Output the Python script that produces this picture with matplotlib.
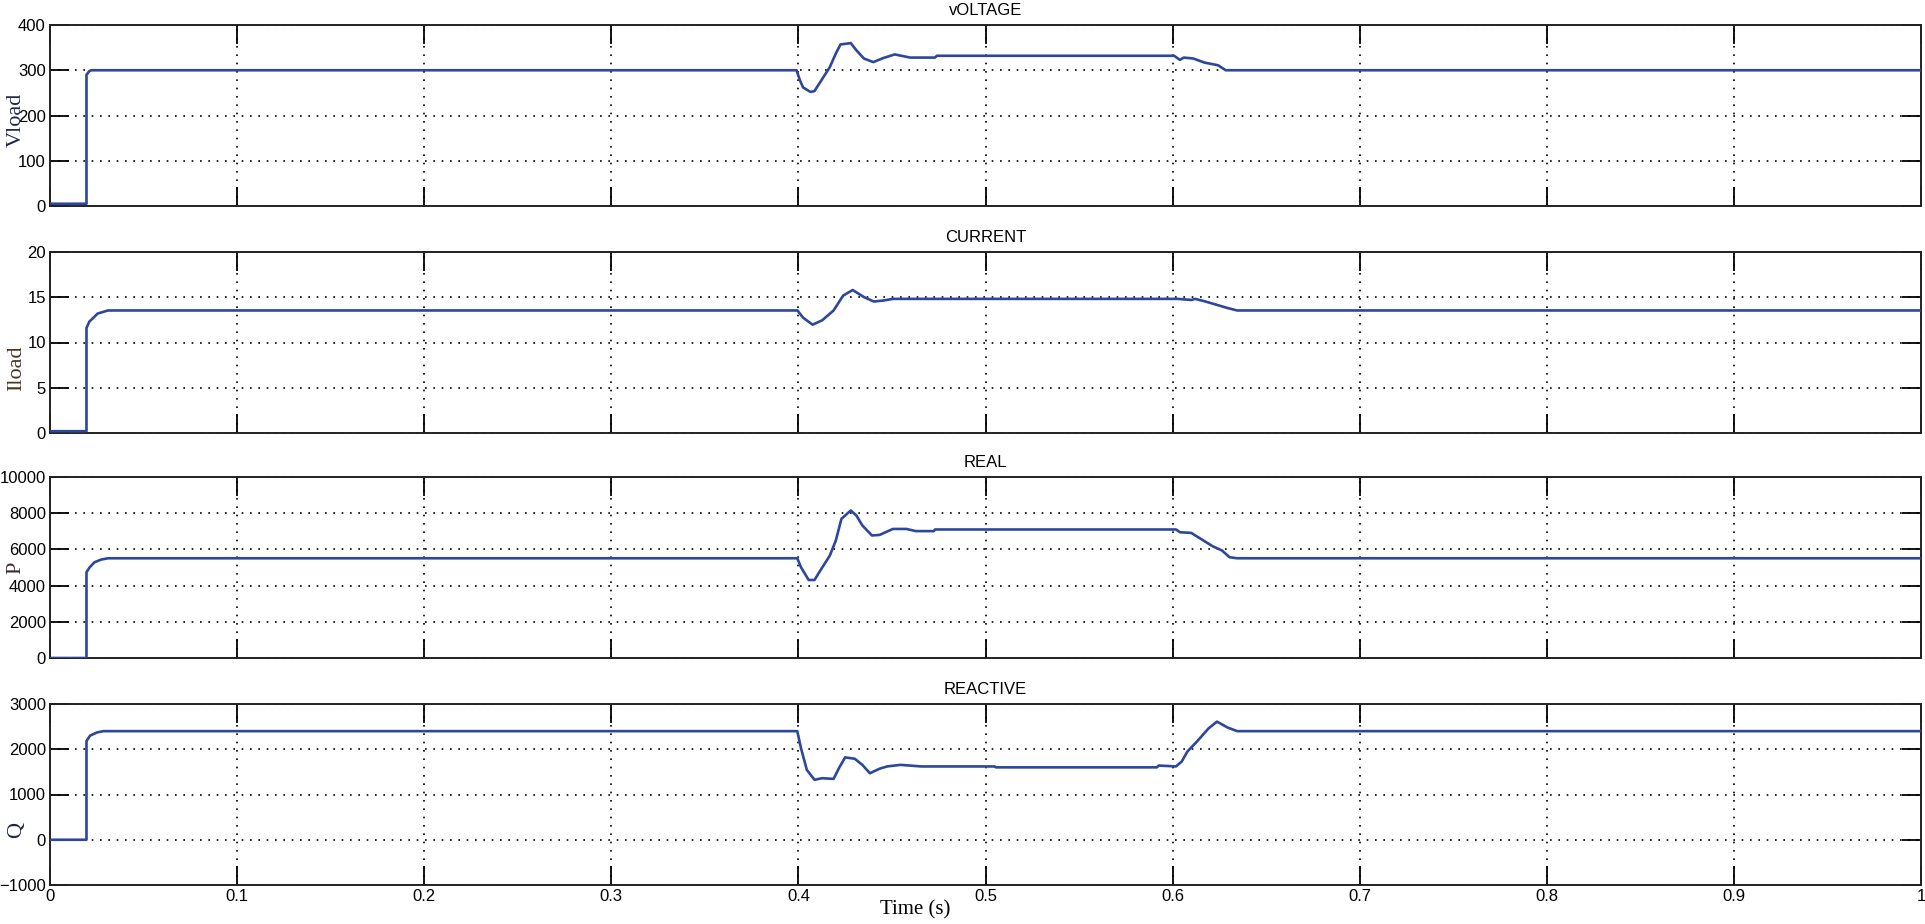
import matplotlib.pyplot as plt
import matplotlib.ticker as mticker

# breakpoints (time in s)
t_v = [0, 0.0195, 0.0195, 0.021, 0.022, 0.399, 0.4008, 0.4025, 0.4065, 0.4086,
       0.4117, 0.4168, 0.420, 0.4225, 0.428, 0.431, 0.435, 0.440, 0.4454, 0.4515,
       0.4597, 0.473, 0.474, 0.6008, 0.6039, 0.606, 0.611, 0.617, 0.6243, 0.6284, 1.0]
v_load = [5, 5, 290, 298, 300, 300, 278, 262, 252, 254,
          274, 307, 337, 357, 360, 344, 326, 318, 327, 335,
          328, 328, 332, 332, 323, 328, 326, 317, 311, 300, 300]

t_i = [0, 0.0195, 0.0195, 0.021, 0.0255, 0.031, 0.3995, 0.4025, 0.4076, 0.4127,
       0.4188, 0.4239, 0.429, 0.4352, 0.4403, 0.4454, 0.4505, 0.6028, 0.610, 0.612,
       0.617, 0.623, 0.629, 0.6345, 1.0]
i_load = [0.2, 0.2, 11.6, 12.3, 13.2, 13.54, 13.54, 12.74, 11.97, 12.45,
          13.54, 15.18, 15.8, 15.0, 14.53, 14.64, 14.82, 14.82, 14.7, 14.82,
          14.56, 14.2, 13.83, 13.54, 13.54]

t_p = [0, 0.0195, 0.0195, 0.0212, 0.0238, 0.0274, 0.031, 0.3994, 0.4014, 0.4055,
       0.4086, 0.4117, 0.4168, 0.420, 0.423, 0.428, 0.431, 0.4342, 0.4393, 0.4434,
       0.4505, 0.4577, 0.4628, 0.4724, 0.473, 0.6018, 0.6039, 0.610, 0.6151, 0.6213,
       0.6264, 0.6304, 0.6345, 1.0]
p_real = [0, 0, 4740, 5010, 5290, 5440, 5510, 5510, 5010, 4310,
          4310, 4830, 5660, 6490, 7690, 8150, 7870, 7320, 6770, 6800,
          7130, 7130, 7010, 7010, 7100, 7100, 6950, 6910, 6580, 6180,
          5940, 5570, 5510, 5510]

t_q = [0, 0.0195, 0.0195, 0.0214, 0.025, 0.0285, 0.3994, 0.4014, 0.4045, 0.4086,
       0.4127, 0.4188, 0.4219, 0.425, 0.4301, 0.4342, 0.4382, 0.4434, 0.4474, 0.4546,
       0.4658, 0.5047, 0.5057, 0.5916, 0.5926, 0.6018, 0.6049, 0.6079, 0.613, 0.6192,
       0.6237, 0.6294, 0.6345, 1.0]
q_reac = [0, 0, 2180, 2300, 2370, 2400, 2400, 2020, 1545, 1325,
          1360, 1345, 1600, 1820, 1790, 1655, 1470, 1570, 1620, 1655,
          1620, 1620, 1600, 1600, 1640, 1620, 1730, 1950, 2170, 2460,
          2610, 2480, 2400, 2400]

titles = ['vOLTAGE', 'CURRENT', 'REAL', 'REACTIVE']
ylabels = ['Vload', 'Iload', 'P', 'Q']
ylims = [(0, 400), (0, 20), (0, 10000), (-1000, 3000)]
ysteps = [100, 5, 2000, 1000]
label_y = [0.475, 0.36, 0.5, 0.305]
label_col = ['#22264a', '#4a3524', '#3a2e30', '#22264a']
xticks = [0, 0.1, 0.2, 0.3, 0.4, 0.5, 0.6, 0.7, 0.8, 0.9, 1.0]
xticklabels = ['0', '0.1', '0.2', '0.3', '0.4', '0.5', '0.6', '0.7', '0.8', '0.9', '1']

series = [(t_v, v_load), (t_i, i_load), (t_p, p_real), (t_q, q_reac)]

sans = ['Liberation Sans Narrow', 'Liberation Sans', 'DejaVu Sans']
serif = ['Liberation Serif', 'DejaVu Serif']

W, H = 1925, 924
fig = plt.figure(figsize=(W / 100, H / 100), dpi=100)
tops = [25, 252, 477, 704]
left, right = 50, 1921
ah = 181

for k in range(4):
    ax = fig.add_axes([left / W, 1 - (tops[k] + ah) / H, (right - left) / W, ah / H])
    t, y = series[k]
    ax.plot(t, y, color='#2c479c', lw=1.9, zorder=3)
    ax.set_xlim(0, 1)
    ax.set_ylim(*ylims[k])
    ax.yaxis.set_major_locator(mticker.MultipleLocator(ysteps[k]))
    ax.set_xticks(xticks)
    if k == 3:
        ax.set_xticklabels(xticklabels)
    else:
        ax.set_xticklabels([])
    ax.grid(True, color='black', linestyle=(0, (1, 4)), lw=1.2)
    ax.tick_params(direction='in', length=14, width=1.3, top=True, right=True,
                   labelsize=12, pad=3, colors='black')
    for lab in ax.get_xticklabels() + ax.get_yticklabels():
        lab.set_family(sans)
    for s in ax.spines.values():
        s.set_linewidth(1.4)
        s.set_color('#222222')
    ax.set_title(titles[k], family=sans, fontsize=12, pad=7)
    ax.set_ylabel(ylabels[k], family=serif, fontsize=16, color=label_col[k],
                  va='center')
    ax.yaxis.set_label_coords(-0.018, label_y[k])

fig.text(915 / W, 1 - 910 / H, 'Time (s)', family=serif, fontsize=15,
         ha='center', va='center')

fig.savefig('out.png', dpi=100)
